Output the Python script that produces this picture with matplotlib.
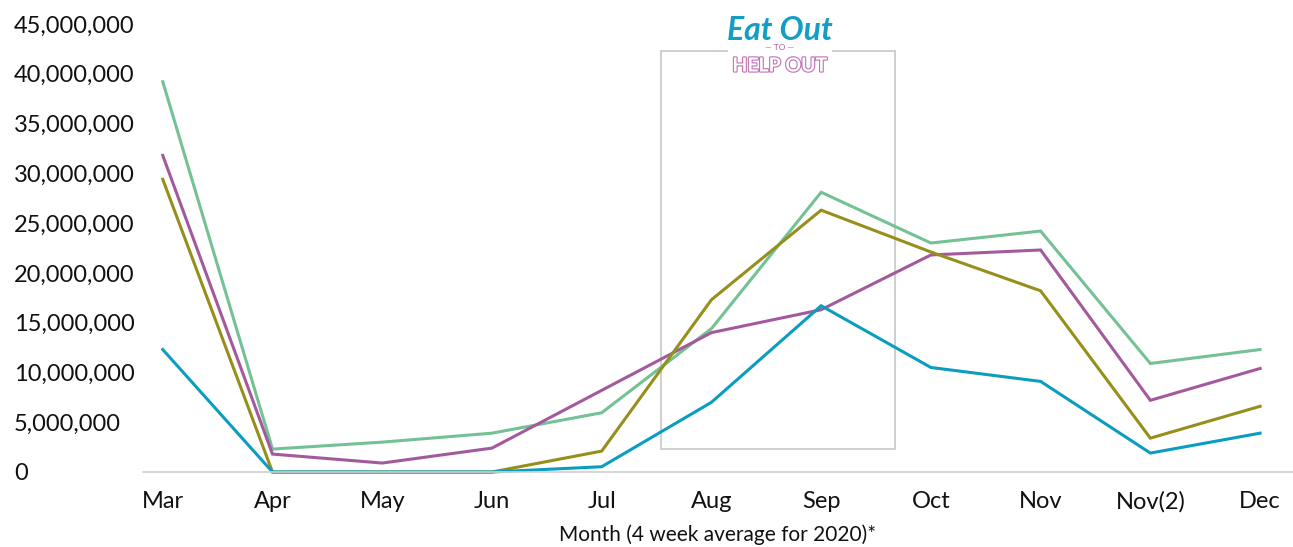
import matplotlib.pyplot as plt
import matplotlib.patheffects as pe
from matplotlib.patches import Rectangle
from matplotlib.ticker import FuncFormatter

# Monthly 4-week averages for 2020
months = ["Mar", "Apr", "May", "Jun", "Jul", "Aug", "Sep", "Oct", "Nov", "Nov(2)", "Dec"]
series_green = [39.2, 2.3, 3.0, 3.9, 5.95, 14.4, 28.1, 23.0, 24.2, 10.9, 12.3]
series_purple = [31.8, 1.8, 0.9, 2.4, 8.2, 14.0, 16.3, 21.8, 22.3, 7.2, 10.4]
series_olive = [29.4, 0.0, 0.0, 0.0, 2.1, 17.3, 26.3, 22.1, 18.2, 3.4, 6.6]
series_blue = [12.3, 0.0, 0.0, 0.0, 0.53, 7.0, 16.7, 10.5, 9.1, 1.9, 3.9]

colors = {
    "green": "#74c195",
    "purple": "#a35a9d",
    "olive": "#968f1c",
    "blue": "#0b9dc0",
}

plt.rcParams["font.family"] = ["Lato", "DejaVu Sans"]

fig = plt.figure(figsize=(12.93, 5.47), dpi=100)
ax = fig.add_axes([143 / 1293, 75 / 547, 1 - 143 / 1293, 448 / 547])

x = list(range(len(months)))
scale = 1_000_000
for vals, c in [(series_green, "green"), (series_purple, "purple"),
                (series_olive, "olive"), (series_blue, "blue")]:
    ax.plot(x, [v * scale for v in vals], color=colors[c], lw=2.2,
            solid_joinstyle="miter", clip_on=False)

ax.set_xlim(-0.18, 10.3)
ax.set_ylim(0, 45 * scale)
ax.set_yticks([i * 5 * scale for i in range(10)])
ax.yaxis.set_major_formatter(FuncFormatter(lambda v, p: f"{int(v):,}"))
ax.set_xticks(x)
ax.set_xticklabels(months)

for side in ["top", "right", "left"]:
    ax.spines[side].set_visible(False)
ax.spines["bottom"].set_color("#d0d0d0")
ax.spines["bottom"].set_linewidth(1.2)
ax.tick_params(axis="both", length=0, labelsize=17, colors="#111111")
ax.tick_params(axis="x", pad=14)
ax.tick_params(axis="y", pad=93)
for lbl in ax.get_yticklabels():
    lbl.set_horizontalalignment("left")

ax.set_xlabel("Month (4 week average for 2020)*", fontsize=15, labelpad=8, color="#111111")

# Eat Out to Help Out period box
box = Rectangle((4.54, 2.3 * scale), 2.13, 40.0 * scale, fill=False,
                edgecolor="#cccccc", lw=1.3, zorder=1)
ax.add_patch(box)

# logo over the top of the box
fig.text(780 / 1293, 1 - 46 / 547, "             ", fontsize=14, ha="center", va="center",
         bbox=dict(facecolor="white", edgecolor="none", pad=14))
fig.text(780 / 1293, 1 - 30 / 547, "Eat Out", fontsize=23, fontweight="bold",
         style="italic", color="#139ec4", ha="center", va="center")
fig.text(780 / 1293, 1 - 48 / 547, "— TO —", fontsize=6, color="#b05aa5",
         ha="center", va="center")
fig.text(780 / 1293, 1 - 66 / 547, "HELP OUT", fontsize=14, fontweight="bold",
         color="white", ha="center", va="center",
         path_effects=[pe.Stroke(linewidth=1.6, foreground="#c070b5"), pe.Normal()])

fig.savefig("out.png", dpi=100, facecolor="white")
